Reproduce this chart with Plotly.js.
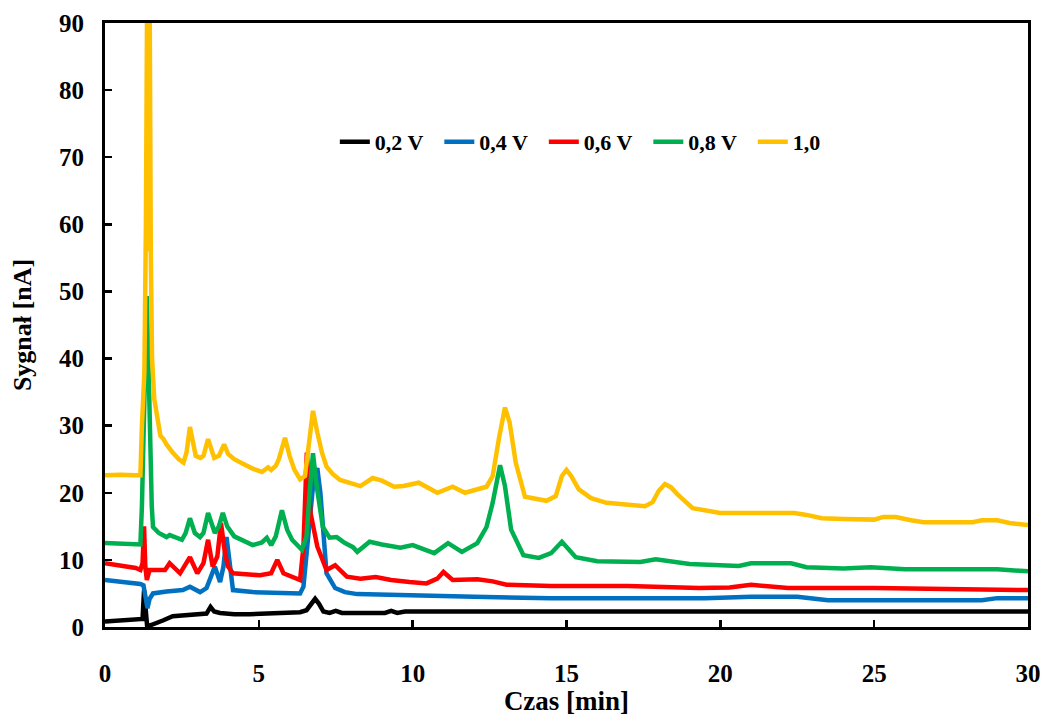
<!DOCTYPE html>
<html>
<head>
<meta charset="utf-8">
<script src="https://cdn.plot.ly/plotly-3.0.1.min.js"></script>
<style>html,body{margin:0;padding:0;background:#fff}#chart{width:1045px;height:716px}</style>
</head>
<body>
<div id="chart"></div>
<script>
// Series names
var seriesNames = ['0,2 V', '0,4 V', '0,6 V', '0,8 V', '1,0'];

// 0,2 V (black)
var t02 = [0,0.5,1.0,1.15,1.22,1.27,1.31,1.37,1.5,1.69,1.9,2.2,2.6,3.09,3.3,3.43,3.55,3.74,4.2,4.7,5.5,6.0,6.34,6.55,6.7,6.83,6.95,7.1,7.3,7.5,7.7,8.0,8.6,9.1,9.3,9.5,9.75,10.5,12,15,18,21,24,27,30];
var v02 = [0.8,0.9,1.0,1.1,1.2,5.5,3.0,0.1,0.3,0.6,1.0,1.6,1.7,1.8,2.0,3.0,2.3,2.1,1.9,1.9,2.0,2.1,2.2,2.5,3.5,4.2,3.5,2.3,2.1,2.4,2.1,2.1,2.0,2.1,2.4,2.1,2.3,2.3,2.3,2.3,2.3,2.3,2.3,2.3,2.3];

// 0,4 V (blue)
var t04 = [0,0.5,1.0,1.15,1.25,1.32,1.38,1.45,1.56,2.0,2.53,2.76,3.09,3.3,3.45,3.57,3.74,3.85,3.95,4.05,4.16,4.8,5.5,6.34,6.45,6.6,6.75,6.9,7.0,7.1,7.2,7.48,7.8,8.2,9.0,9.6,10.5,12,14.5,16,18,19.5,21,22.5,23.5,25,27,28.5,29,30];
var v04 = [7.0,6.8,6.5,6.4,6.2,4.0,2.8,4.2,5.0,5.3,5.5,6.0,5.2,5.8,7.5,9.0,6.7,9.0,13.4,9.5,5.5,5.2,5.1,5.0,6.0,12.5,20.5,23.7,20.0,14.0,8.0,5.8,5.2,4.9,4.8,4.8,4.6,4.5,4.3,4.3,4.3,4.3,4.5,4.5,4.0,4.0,4.0,4.0,4.3,4.3];

// 0,6 V (red)
var t06 = [0,0.5,1.0,1.15,1.22,1.27,1.31,1.36,1.45,1.95,2.1,2.44,2.76,3.0,3.2,3.35,3.5,3.65,3.77,3.9,4.0,4.16,5.04,5.4,5.6,5.8,6.34,6.45,6.56,6.68,6.9,7.2,7.48,7.86,8.3,8.8,9.3,9.9,10.45,10.8,11.0,11.3,12.1,12.6,13.05,14.5,17.0,19.3,20.3,21.0,21.6,22.2,25,28,30];
var v06 = [9.5,9.2,8.8,8.5,9.5,15.0,9.0,7.0,8.5,8.5,9.5,8.0,10.4,8.0,9.5,13.0,9.0,10.5,15.5,11.0,9.0,8.0,7.7,8.0,10.0,8.0,7.0,12.0,26.0,17.0,12.0,8.5,9.2,7.5,7.2,7.45,7.0,6.7,6.5,7.2,8.2,7.0,7.1,6.8,6.3,6.1,6.1,5.8,5.9,6.3,6.1,5.8,5.8,5.7,5.5];

// 0,8 V (green)
var t08 = [0,0.5,1.0,1.15,1.2,1.26,1.31,1.36,1.41,1.46,1.52,1.56,1.75,2.0,2.1,2.5,2.62,2.76,2.92,3.09,3.2,3.35,3.47,3.57,3.7,3.83,3.97,4.2,4.8,5.1,5.26,5.4,5.55,5.75,5.92,6.08,6.4,6.55,6.65,6.76,6.88,7.08,7.3,7.53,7.8,8.06,8.2,8.6,9.0,9.6,10.0,10.7,11.15,11.6,12.1,12.4,12.6,12.84,13.0,13.2,13.6,14.1,14.5,14.85,15.3,16.0,17.4,17.9,19.0,20.6,21.0,22.3,22.8,24.0,24.9,25.5,26.0,29.0,30];
var v08 = [12.5,12.4,12.3,12.3,18.0,32.0,42.0,49.3,40.0,28.0,18.0,14.9,14.0,13.4,13.7,13.0,14.0,16.2,14.0,13.4,14.0,17.0,15.5,14.0,15.0,17.0,15.0,13.5,12.2,12.6,13.3,12.2,13.5,17.4,14.5,13.0,11.5,13.5,20.0,25.9,21.0,14.9,13.3,13.4,12.5,11.9,11.2,12.7,12.3,11.8,12.2,11.0,12.5,11.2,12.5,14.9,18.5,24.1,21.0,14.5,10.7,10.3,11.0,12.7,10.4,9.8,9.7,10.1,9.4,9.1,9.5,9.5,8.9,8.7,8.9,8.7,8.6,8.6,8.3];

// 1,0 V (yellow)
var t10 = [0,0.5,1.0,1.15,1.2,1.28,1.33,1.37,1.41,1.45,1.49,1.53,1.6,1.7,1.8,1.9,2.0,2.2,2.4,2.55,2.65,2.76,2.86,2.95,3.1,3.2,3.35,3.45,3.55,3.7,3.87,4.0,4.2,4.5,4.8,5.1,5.3,5.4,5.55,5.65,5.85,6.0,6.15,6.34,6.5,6.62,6.76,6.9,7.05,7.2,7.4,7.64,7.9,8.3,8.7,9.0,9.4,9.7,10.2,10.8,11.3,11.7,12.4,12.6,12.8,13.0,13.15,13.35,13.65,14.35,14.65,14.85,15.0,15.15,15.4,15.8,16.3,17.0,17.55,17.8,18.0,18.2,18.4,18.6,19.1,20.0,21.0,22.4,22.8,23.3,24.0,25.0,25.3,25.7,26.2,26.6,27.5,28.2,28.5,29.0,29.4,29.7,30];
var v10 = [22.6,22.7,22.6,22.6,30.0,38.0,60.0,95.0,56.0,95.0,55.0,40.0,34.0,31.0,28.5,28.0,27.2,26.0,25.0,24.5,26.0,29.8,27.0,25.5,25.2,25.5,28.0,26.5,25.2,25.5,27.2,25.8,25.0,24.3,23.6,23.1,23.8,23.4,24.0,25.0,28.2,25.5,23.5,22.0,22.5,27.0,32.2,29.0,26.0,23.9,22.8,21.9,21.6,21.0,22.2,21.8,20.9,21.0,21.5,20.0,20.9,20.0,20.9,22.5,28.0,32.7,30.5,24.5,19.4,18.8,19.5,22.5,23.4,22.5,20.5,19.2,18.5,18.3,18.0,18.6,20.3,21.3,20.8,19.8,17.7,17.0,17.0,17.0,16.7,16.2,16.1,16.0,16.4,16.4,15.9,15.6,15.6,15.6,15.9,15.9,15.5,15.3,15.2];

var colors = ['#000000', '#0070C0', '#FF0000', '#00B050', '#FFC000'];
var xs = [t02, t04, t06, t08, t10];
var ys = [v02, v04, v06, v08, v10];

var traces = [];
for (var i = 0; i < 5; i++) {
  traces.push({
    x: xs[i], y: ys[i], name: seriesNames[i], type: 'scatter', mode: 'lines',
    line: {color: colors[i], width: 4.5, shape: 'linear'}
  });
}

var fontFam = '"Liberation Serif", "Times New Roman", serif';
var layout = {
  width: 1045, height: 716,
  margin: {l: 105, r: 17, t: 23, b: 89},
  paper_bgcolor: '#ffffff', plot_bgcolor: '#ffffff',
  font: {family: fontFam, size: 20, color: '#000', weight: 'bold'},
  showlegend: true,
  legend: {
    orientation: 'h', x: 0.249, y: 0.803, xanchor: 'left', yanchor: 'middle',
    entrywidth: 59.5, entrywidthmode: 'pixels',
    font: {family: fontFam, size: 22, color: '#000', weight: 'bold'},
    bgcolor: 'rgba(0,0,0,0)', traceorder: 'normal'
  },
  xaxis: {
    range: [0, 30], tickvals: [0,5,10,15,20,25,30], ticktext: ['0','5','10','15','20','25','30'],
    showline: true, linecolor: '#000', linewidth: 3, mirror: true,
    ticks: 'inside', ticklen: 7, tickwidth: 2.5, tickcolor: '#000',
    showgrid: false, zeroline: false, ticklabelstandoff: 22,
    tickfont: {family: fontFam, size: 25, color: '#000', weight: 'bold'},
    title: {text: 'Czas [min]', font: {family: fontFam, size: 27, color: '#000', weight: 'bold'}, standoff: 6}
  },
  yaxis: {
    range: [0, 90], tickvals: [0,10,20,30,40,50,60,70,80,90],
    showline: true, linecolor: '#000', linewidth: 3, mirror: true,
    ticks: 'inside', ticklen: 7, tickwidth: 2.5, tickcolor: '#000',
    showgrid: false, zeroline: false, ticklabelstandoff: 13,
    tickfont: {family: fontFam, size: 25, color: '#000', weight: 'bold'},
    title: {text: 'Sygnał [nA]', font: {family: fontFam, size: 26, color: '#000', weight: 'bold'}, standoff: 20}
  }
};

Plotly.newPlot('chart', traces, layout, {displayModeBar: false, staticPlot: true});
</script>
</body>
</html>
